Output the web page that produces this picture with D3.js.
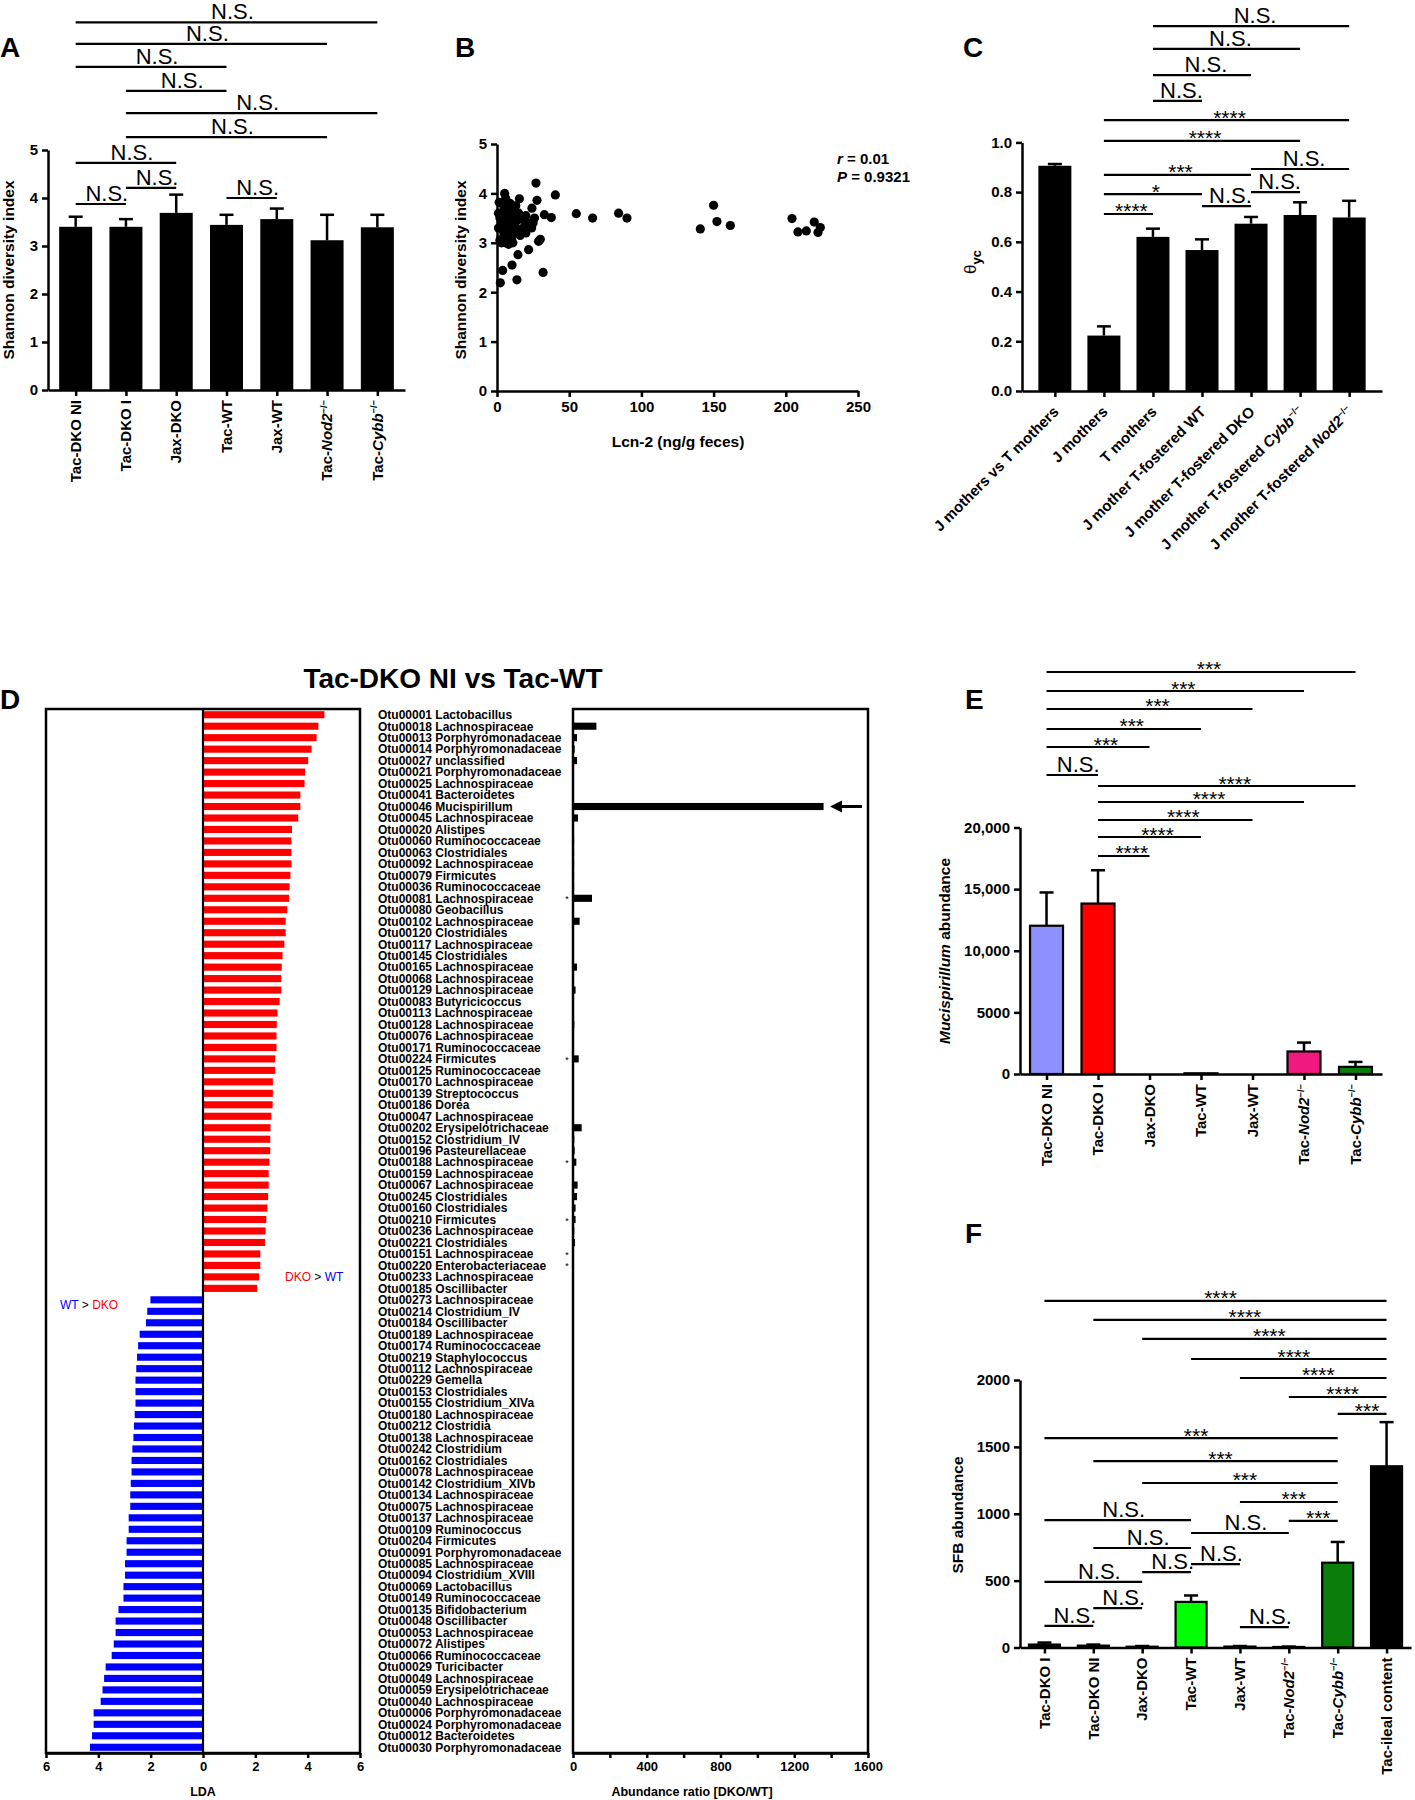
<!DOCTYPE html>
<html><head><meta charset="utf-8">
<script src="https://cdn.jsdelivr.net/npm/d3@7"></script>
<style>body{margin:0;background:#fff;}</style>
</head><body>
<script>
// ---------------- DATA ----------------
// Panel A
const groupsA = ["Tac-DKO NI","Tac-DKO I","Jax-DKO","Tac-WT","Jax-WT","Tac-Nod2−/−","Tac-Cybb−/−"];
const shannonMean = [3.40,3.40,3.69,3.44,3.56,3.12,3.39];
const shannonErr  = [0.21,0.16,0.38,0.21,0.22,0.53,0.26];
const bracketsA = [[0,6,"N.S.",7.66],[0,5,"N.S.",7.21],[0,3,"N.S.",6.73],[1,3,"N.S.",6.23],[1,6,"N.S.",5.77],[1,5,"N.S.",5.27],[0,2,"N.S.",4.73],[1,2,"N.S.",4.21],[0,1,"N.S.",3.875],[3,4,"N.S.",4.0]];
const ticksA = [0,1,2,3,4,5];

// Panel B
const lcn2 = [2.3,3.9,10.4,13.8,14.5,21.9,31.9,28.8,30.0,27.7,27.0,40.4,5.3,15.5,24.2,32.8,37.6,54.9,66.2,84.2,90.0,140.8,150.0,152.3,161.6,204.3,208.4,214.2,219.7,222.3,223.9,
  1.5,3,4,5,6,7,8,9,10,11,12,13,2,4,6,8,10,12,14,16,18,20,22,24,25,20,1,3,7,9,11,15,17,5,19,23,26,
  1,2,3,6,8,10,12,4,9,13,11,7,14];
const shannonB = [2.19,2.44,2.55,2.25,2.76,2.86,2.40,3.03,3.07,3.86,4.21,3.97,4.00,3.89,3.70,3.57,3.51,3.59,3.50,3.60,3.50,3.28,3.76,3.43,3.35,3.49,3.22,3.24,3.42,3.21,3.31,
  3.82,3.80,3.60,3.50,3.30,3.70,3.40,3.20,3.60,3.00,3.50,3.75,3.05,3.10,3.90,3.05,3.35,3.20,3.45,3.15,3.30,3.55,3.40,3.30,3.40,3.20,3.60,3.40,3.55,3.80,3.45,3.60,3.25,3.70,3.45,3.35,3.50,
  3.30,3.50,3.00,3.00,2.97,3.10,3.60,3.25,3.50,3.30,3.70,3.15,3.55];
const ticksBx = [0,50,100,150,200,250];
const ticksBy = [0,1,2,3,4,5];

// Panel C
const groupsC = ["J mothers vs T mothers","J mothers","T mothers","J mother T-fostered WT","J mother T-fostered DKO","J mother T-fostered Cybb−/−","J mother T-fostered Nod2−/−"];
const thetaMean = [0.906,0.223,0.620,0.567,0.673,0.708,0.698];
const thetaErr  = [0.007,0.037,0.033,0.043,0.027,0.051,0.067];
const bracketsC = [[2,6,"N.S.",1.468],[2,5,"N.S.",1.376],[2,4,"N.S.",1.271],[2,3,"N.S.",1.167],[1,6,"****",1.090],[1,5,"****",1.006],[1,4,"***",0.869],[1,3,"*",0.792],[1,2,"****",0.712],[3,4,"N.S.",0.744],[4,5,"N.S.",0.800],[4,6,"N.S.",0.893]];
const ticksC = [0,0.2,0.4,0.6,0.8,1.0];

// Panel D
const otuLabels = ["Otu00001 Lactobacillus","Otu00018 Lachnospiraceae","Otu00013 Porphyromonadaceae","Otu00014 Porphyromonadaceae","Otu00027 unclassified","Otu00021 Porphyromonadaceae","Otu00025 Lachnospiraceae","Otu00041 Bacteroidetes","Otu00046 Mucispirillum","Otu00045 Lachnospiraceae","Otu00020 Alistipes","Otu00060 Ruminococcaceae","Otu00063 Clostridiales","Otu00092 Lachnospiraceae","Otu00079 Firmicutes","Otu00036 Ruminococcaceae","Otu00081 Lachnospiraceae","Otu00080 Geobacillus","Otu00102 Lachnospiraceae","Otu00120 Clostridiales","Otu00117 Lachnospiraceae","Otu00145 Clostridiales","Otu00165 Lachnospiraceae","Otu00068 Lachnospiraceae","Otu00129 Lachnospiraceae","Otu00083 Butyricicoccus","Otu00113 Lachnospiraceae","Otu00128 Lachnospiraceae","Otu00076 Lachnospiraceae","Otu00171 Ruminococcaceae","Otu00224 Firmicutes","Otu00125 Ruminococcaceae","Otu00170 Lachnospiraceae","Otu00139 Streptococcus","Otu00186 Dorea","Otu00047 Lachnospiraceae","Otu00202 Erysipelotrichaceae","Otu00152 Clostridium_IV","Otu00196 Pasteurellaceae","Otu00188 Lachnospiraceae","Otu00159 Lachnospiraceae","Otu00067 Lachnospiraceae","Otu00245 Clostridiales","Otu00160 Clostridiales","Otu00210 Firmicutes","Otu00236 Lachnospiraceae","Otu00221 Clostridiales","Otu00151 Lachnospiraceae","Otu00220 Enterobacteriaceae","Otu00233 Lachnospiraceae","Otu00185 Oscillibacter",
 "Otu00273 Lachnospiraceae","Otu00214 Clostridium_IV","Otu00184 Oscillibacter","Otu00189 Lachnospiraceae","Otu00174 Ruminococcaceae","Otu00219 Staphylococcus","Otu00112 Lachnospiraceae","Otu00229 Gemella","Otu00153 Clostridiales","Otu00155 Clostridium_XIVa","Otu00180 Lachnospiraceae","Otu00212 Clostridia","Otu00138 Lachnospiraceae","Otu00242 Clostridium","Otu00162 Clostridiales","Otu00078 Lachnospiraceae","Otu00142 Clostridium_XIVb","Otu00134 Lachnospiraceae","Otu00075 Lachnospiraceae","Otu00137 Lachnospiraceae","Otu00109 Ruminococcus","Otu00204 Firmicutes","Otu00091 Porphyromonadaceae","Otu00085 Lachnospiraceae","Otu00094 Clostridium_XVIII","Otu00069 Lactobacillus","Otu00149 Ruminococcaceae","Otu00135 Bifidobacterium","Otu00048 Oscillibacter","Otu00053 Lachnospiraceae","Otu00072 Alistipes","Otu00066 Ruminococcaceae","Otu00029 Turicibacter","Otu00049 Lachnospiraceae","Otu00059 Erysipelotrichaceae","Otu00040 Lachnospiraceae","Otu00006 Porphyromonadaceae","Otu00024 Porphyromonadaceae","Otu00012 Bacteroidetes","Otu00030 Porphyromonadaceae"];
const ldaDKO = [4.64,4.41,4.34,4.15,4.02,3.90,3.88,3.72,3.72,3.64,3.40,3.38,3.38,3.38,3.34,3.31,3.29,3.22,3.16,3.16,3.11,3.04,3.01,2.99,2.99,2.93,2.85,2.82,2.81,2.81,2.76,2.76,2.67,2.67,2.66,2.61,2.58,2.57,2.57,2.54,2.51,2.51,2.49,2.46,2.42,2.39,2.37,2.19,2.19,2.15,2.07];
const ldaWT = [2.01,2.13,2.18,2.42,2.48,2.52,2.55,2.58,2.58,2.58,2.61,2.64,2.66,2.70,2.73,2.73,2.76,2.78,2.78,2.84,2.84,2.92,2.92,2.98,2.98,3.04,3.04,3.23,3.34,3.34,3.41,3.49,3.72,3.78,3.84,3.91,4.18,4.18,4.24,4.32];
const abundanceRatio = [1,127,22,9,22,5,5,2,1359,27,4,6,6,6,6,6,103,4,36,5,5,5,22,5,14,5,5,7,4,4,31,4,4,5,5,4,47,7,9,18,5,25,22,14,14,7,11,1,1,0,0];
const starredOtus = ["Otu00081 Lachnospiraceae","Otu00224 Firmicutes","Otu00188 Lachnospiraceae","Otu00210 Firmicutes","Otu00151 Lachnospiraceae","Otu00220 Enterobacteriaceae"];
const arrowOtu = "Otu00046 Mucispirillum";
const ticksLDA = [-6,-4,-2,0,2,4,6];
const ticksRatio = [0,200,400,600,800,1000,1200,1400,1600];

// Panel E
const groupsE = ["Tac-DKO NI","Tac-DKO I","Jax-DKO","Tac-WT","Jax-WT","Tac-Nod2−/−","Tac-Cybb−/−"];
const mucMean = [12030,13830,0,60,0,1830,580];
const mucErr  = [2700,2700,0,0,0,720,400];
const colorsE = ["#8f8fff","#ff0000","#ffffff","#ffffff","#ffffff","#f0197f","#0a7d0a"];
const bracketsE = [[0,6,"***",32617],[0,5,"***",31075],[0,4,"***",29615],[0,3,"***",27992],[0,2,"***",26531],[0,1,"N.S.",24260],[1,6,"****",23367],[1,5,"****",22069],[1,4,"****",20609],[1,3,"****",19229],[1,2,"****",17688]];
const ticksE = [0,5000,10000,15000,20000];

// Panel F
const groupsF = ["Tac-DKO I","Tac-DKO NI","Jax-DKO","Tac-WT","Jax-WT","Tac-Nod2−/−","Tac-Cybb−/−","Tac-ileal content"];
const sfbMean = [22,14,6,341,7,4,634,1355];
const sfbErr  = [15,8,5,48,4,3,155,330];
const colorsF = ["#000","#000","#000","#00ff00","#000","#000","#0a7d0a","#000"];
const bracketsF = [[0,7,"****",2591],[1,7,"****",2449],[2,7,"****",2307],[3,7,"****",2157],[4,7,"****",2015],[5,7,"****",1873],[6,7,"***",1746],[0,6,"***",1566],[1,6,"***",1394],[2,6,"***",1230],[4,6,"***",1088],[5,6,"***",946],[0,3,"N.S.",953],[3,5,"N.S.",856],[1,3,"N.S.",744],[3,4,"N.S.",624],[2,3,"N.S.",564],[0,2,"N.S.",490],[1,2,"N.S.",295],[0,1,"N.S.",161],[4,5,"N.S.",153]];
const ticksF = [0,500,1000,1500,2000];

// ---------------- DRAWING ----------------
const FF = '"Liberation Sans", Arial, Helvetica, sans-serif';
const svg = d3.select("body").append("svg").attr("width",1415).attr("height",1800)
  .style("display","block").attr("font-family",FF);

function rich(sel, str){
  str.split(/(Nod2|Cybb|Mucispirillum|−\/−)/).filter(s=>s.length).forEach(p=>{
    const t = sel.append("tspan").text(p);
    if(p==="Nod2"||p==="Cybb"||p==="Mucispirillum") t.attr("font-style","italic");
    if(p==="−/−") t.attr("font-size","0.62em").attr("dy","-0.6em");
  });
}
function styleAxis(g, fs){
  g.attr("font-family",FF).attr("font-size",fs).attr("font-weight","bold");
  g.select(".domain").attr("stroke","#000").attr("stroke-width",2.5);
  g.selectAll(".tick line").attr("stroke","#000").attr("stroke-width",2.5);
  g.selectAll(".tick text").attr("fill","#000");
}
function panelLabel(t,x,y){
  svg.append("text").attr("x",x).attr("y",y).attr("font-size",28).attr("font-weight","bold").text(t);
}
function brackets(g, x, y, list, nsDx, stDx){
  list.forEach(([i,j,lab,lev])=>{
    const yy = y(lev);
    g.append("line").attr("x1",x(i)).attr("x2",x(j)).attr("y1",yy).attr("y2",yy)
      .attr("stroke","#000").attr("stroke-width",2.2);
    const ns = lab==="N.S.";
    g.append("text").attr("x",(x(i)+x(j))/2 + (ns?nsDx:stDx)).attr("y", ns? yy-3 : yy+4.5)
      .attr("text-anchor","middle").attr("font-size", ns?22:21).text(lab);
  });
}
function barChart(c){
  const g = svg.append("g");
  const x = d3.scalePoint().domain(d3.range(c.means.length)).range([c.x0,c.x1]).padding(c.pad);
  const y = d3.scaleLinear().domain(c.yDomain).range(c.yRange);
  g.selectAll("rect.bar").data(c.means).join("rect").attr("class","bar")
    .attr("x",(d,i)=>x(i)-c.barW/2).attr("width",c.barW)
    .attr("y",d=>y(d)).attr("height",d=>y(0)-y(d))
    .attr("fill",(d,i)=>c.colors[i]).attr("stroke","#000").attr("stroke-width",c.stroke);
  c.means.forEach((m,i)=>{
    const e=c.errs[i]; if(e<=0) return;
    g.append("line").attr("x1",x(i)).attr("x2",x(i)).attr("y1",y(m)).attr("y2",y(m+e)).attr("stroke","#000").attr("stroke-width",2.5);
    g.append("line").attr("x1",x(i)-7).attr("x2",x(i)+7).attr("y1",y(m+e)).attr("y2",y(m+e)).attr("stroke","#000").attr("stroke-width",2.5);
  });
  const ya = g.append("g").attr("transform",`translate(${c.x0},0)`)
    .call(d3.axisLeft(y).tickValues(c.ticks).tickFormat(c.fmt).tickSize(6).tickSizeOuter(0).tickPadding(4));
  styleAxis(ya, 15);
  const xa = g.append("g").attr("transform",`translate(0,${y(0)})`)
    .call(d3.axisBottom(x).tickSize(6).tickSizeOuter(0).tickFormat(""));
  styleAxis(xa, 15);
  c.labels.forEach((lab,i)=>{
    const t = g.append("text").attr("font-size",15).attr("font-weight","bold").attr("text-anchor","end");
    if(c.rot===-90) t.attr("transform",`translate(${x(i)},${y(0)+c.labOff}) rotate(-90)`).attr("dy","0.35em");
    else t.attr("transform",`translate(${x(i)+1},${y(0)+c.labOff}) rotate(-45)`).attr("dy","0.35em");
    rich(t, lab);
  });
  brackets(g, x, y, c.brackets, c.nsDx, c.stDx);
  return {x,y,g};
}

// ---- Panel A ----
panelLabel("A",0,57);
const A = barChart({means:shannonMean, errs:shannonErr, labels:groupsA, colors:shannonMean.map(()=>"#000"),
  x0:48, x1:405, pad:0.55, yDomain:[0,5], yRange:[390,150], ticks:ticksA, fmt:d3.format("d"),
  barW:33, stroke:0, rot:-90, labOff:10, brackets:bracketsA, nsDx:6, stDx:4});
svg.append("text").attr("transform","translate(14,270) rotate(-90)").attr("text-anchor","middle")
  .attr("font-size",15.5).attr("font-weight","bold").text("Shannon diversity index");

// ---- Panel B ----
panelLabel("B",455,57);
{
  const g = svg.append("g");
  const x = d3.scaleLinear().domain([0,250]).range([497,858]);
  const y = d3.scaleLinear().domain([0,5]).range([391,144]);
  g.selectAll("circle").data(lcn2).join("circle")
    .attr("cx",d=>x(d)).attr("cy",(d,i)=>y(shannonB[i])).attr("r",4.6).attr("fill","#000");
  const xa = g.append("g").attr("transform",`translate(0,${y(0)})`)
    .call(d3.axisBottom(x).tickValues(ticksBx).tickFormat(d3.format("d")).tickSize(6).tickSizeOuter(0).tickPadding(4));
  styleAxis(xa,15);
  const ya = g.append("g").attr("transform",`translate(${x(0)},0)`)
    .call(d3.axisLeft(y).tickValues(ticksBy).tickFormat(d3.format("d")).tickSize(6).tickSizeOuter(0).tickPadding(4));
  styleAxis(ya,15);
  g.append("text").attr("x",678).attr("y",447).attr("text-anchor","middle").attr("font-size",15.5).attr("font-weight","bold").text("Lcn-2 (ng/g feces)");
  g.append("text").attr("transform","translate(466,270) rotate(-90)").attr("text-anchor","middle").attr("font-size",15.5).attr("font-weight","bold").text("Shannon diversity index");
  const r = g.append("text").attr("x",837).attr("y",164).attr("font-size",15).attr("font-weight","bold");
  r.append("tspan").attr("font-style","italic").text("r"); r.append("tspan").text(" = 0.01");
  const p = g.append("text").attr("x",837).attr("y",182).attr("font-size",15).attr("font-weight","bold");
  p.append("tspan").attr("font-style","italic").text("P"); p.append("tspan").text(" = 0.9321");
}

// ---- Panel C ----
panelLabel("C",963,57);
const C = barChart({means:thetaMean, errs:thetaErr, labels:groupsC, colors:thetaMean.map(()=>"#000"),
  x0:1022, x1:1382, pad:0.67, yDomain:[0,1], yRange:[391,142.4], ticks:ticksC, fmt:d3.format(".1f"),
  barW:33, stroke:0, rot:-45, labOff:18, brackets:bracketsC, nsDx:4, stDx:3});
{
  const t = svg.append("text").attr("transform","translate(976,262) rotate(-90)").attr("text-anchor","middle").attr("font-size",17);
  t.append("tspan").text("θ");
  t.append("tspan").attr("font-size",13).attr("font-weight","bold").attr("dy","0.35em").text("yc");
}

// ---- Panel D ----
panelLabel("D",0,709);
{
  const g = svg.append("g");
  g.append("text").attr("x",453).attr("y",688).attr("text-anchor","middle").attr("font-size",28).attr("font-weight","bold").text("Tac-DKO NI vs Tac-WT");
  const top=709, bot=1753;
  const yD = d3.scaleBand().domain(otuLabels).range([top,bot]).paddingInner(0.38).paddingOuter(0.19);
  const xL = d3.scaleLinear().domain([-6,6]).range([46,360]);
  const xR = d3.scaleLinear().domain([0,1600]).range([573,868]);
  const ldaAll = ldaDKO.map(v=>({v,grp:"DKO"})).concat(ldaWT.map(v=>({v:-v,grp:"WT"})));
  g.selectAll("rect.lda").data(ldaAll).join("rect").attr("class","lda")
    .attr("x",d=>Math.min(xL(0),xL(d.v))).attr("width",d=>Math.abs(xL(d.v)-xL(0)))
    .attr("y",(d,i)=>yD(otuLabels[i])).attr("height",yD.bandwidth())
    .attr("fill",d=>d.grp==="DKO"?"#ff0000":"#0000ff");
  g.append("rect").attr("x",xL(-6)).attr("y",top).attr("width",xL(6)-xL(-6)).attr("height",bot-top)
    .attr("fill","none").attr("stroke","#000").attr("stroke-width",2.5);
  g.append("line").attr("x1",xL(0)).attr("x2",xL(0)).attr("y1",top).attr("y2",bot).attr("stroke","#000").attr("stroke-width",2.2);
  const la = g.append("g").attr("transform",`translate(0,${bot})`)
    .call(d3.axisBottom(xL).tickValues(ticksLDA).tickFormat(d=>Math.abs(d)).tickSize(5).tickSizeOuter(0).tickPadding(4));
  styleAxis(la,13);
  g.append("text").attr("x",xL(0)).attr("y",1796).attr("text-anchor","middle").attr("font-size",12.5).attr("font-weight","bold").text("LDA");
  // labels
  g.selectAll("text.otu").data(otuLabels).join("text").attr("class","otu")
    .attr("x",378).attr("y",d=>yD(d)+yD.bandwidth()/2).attr("dy","0.36em")
    .attr("font-size",12).attr("font-weight","bold").text(d=>d);
  // abundance ratio
  g.selectAll("rect.ratio").data(abundanceRatio).join("rect").attr("class","ratio")
    .attr("x",xR(0)).attr("width",d=>xR(d)-xR(0))
    .attr("y",(d,i)=>yD(otuLabels[i])).attr("height",yD.bandwidth()).attr("fill","#000");
  g.append("rect").attr("x",xR(0)).attr("y",top).attr("width",xR(1600)-xR(0)).attr("height",bot-top)
    .attr("fill","none").attr("stroke","#000").attr("stroke-width",2.5);
  const ra = g.append("g").attr("transform",`translate(0,${bot})`)
    .call(d3.axisBottom(xR).tickValues(ticksRatio).tickFormat(d=>d%400===0?d:"").tickSize(5).tickSizeOuter(0).tickPadding(4));
  styleAxis(ra,13);
  g.append("text").attr("x",692).attr("y",1796).attr("text-anchor","middle").attr("font-size",12.5).attr("font-weight","bold").text("Abundance  ratio [DKO/WT]");
  g.selectAll("text.star").data(starredOtus).join("text").attr("class","star")
    .attr("x",567).attr("y",d=>yD(d)+yD.bandwidth()/2+4).attr("text-anchor","middle").attr("font-size",9).text("*");
  const ay = yD(arrowOtu)+yD.bandwidth()/2;
  g.append("line").attr("x1",838).attr("x2",862).attr("y1",ay).attr("y2",ay).attr("stroke","#000").attr("stroke-width",3);
  g.append("path").attr("d",`M830,${ay} L842,${ay-6} L842,${ay+6} Z`).attr("fill","#000");
  const t1 = g.append("text").attr("x",285).attr("y",1281).attr("font-size",12);
  t1.append("tspan").attr("fill","#ff0000").text("DKO"); t1.append("tspan").text(" > "); t1.append("tspan").attr("fill","#0000ff").text("WT");
  const t2 = g.append("text").attr("x",60).attr("y",1309).attr("font-size",12);
  t2.append("tspan").attr("fill","#0000ff").text("WT"); t2.append("tspan").text(" > "); t2.append("tspan").attr("fill","#ff0000").text("DKO");
}

// ---- Panel E ----
panelLabel("E",965,709);
const E = barChart({means:mucMean, errs:mucErr, labels:groupsE, colors:colorsE,
  x0:1020, x1:1382, pad:0.515, yDomain:[0,20000], yRange:[1074,827.5], ticks:ticksE,
  fmt:d=>d>=10000?d3.format(",")(d):d, barW:33, stroke:2.2, rot:-90, labOff:10, brackets:bracketsE, nsDx:6, stDx:8});
{
  const t = svg.append("text").attr("transform","translate(950,951) rotate(-90)").attr("text-anchor","middle").attr("font-size",15.5).attr("font-weight","bold");
  rich(t,"Mucispirillum abundance");
}

// ---- Panel F ----
panelLabel("F",965,1243);
const F = barChart({means:sfbMean, errs:sfbErr, labels:groupsF, colors:colorsF,
  x0:1020, x1:1411, pad:0.5, yDomain:[0,2000], yRange:[1647.5,1380], ticks:ticksF, fmt:d3.format("d"),
  barW:31, stroke:2.2, rot:-90, labOff:10, brackets:bracketsF, nsDx:6, stDx:5});
svg.append("text").attr("transform","translate(963,1515) rotate(-90)").attr("text-anchor","middle")
  .attr("font-size",15.5).attr("font-weight","bold").text("SFB abundance");
</script>
</body></html>
